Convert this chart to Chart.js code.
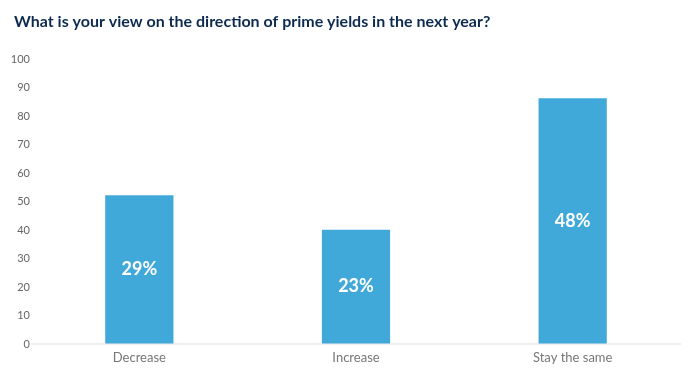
<!DOCTYPE html>
<html>
<head>
<meta charset="utf-8">
<script src="https://cdn.jsdelivr.net/npm/chart.js@4.4.1/dist/chart.umd.min.js"></script>
<style>
  html, body { margin: 0; padding: 0; background: #fff; }
  #wrap { width: 700px; height: 377px; }
</style>
</head>
<body>
<div id="wrap"><canvas id="prime_yields"></canvas></div>
<script>
var categories = ['Decrease', 'Increase', 'Stay the same'];
var responses = [52.3, 40.2, 86.3];
var share_labels = ['29%', '23%', '48%'];
var y_ticks = [0, 10, 20, 30, 40, 50, 60, 70, 80, 90, 100];

var bar_color = '#41a8da';

// white share text in the middle of each bar
var barText = {
    id: 'barText',
    afterLayout: function (chart) {
        // indent the title a little from the canvas edge
        if (chart.titleBlock) chart.titleBlock.left = 14;
    },
    afterDatasetsDraw: function (chart) {
        var ctx = chart.ctx;
        var meta = chart.getDatasetMeta(0);
        ctx.save();
        ctx.fillStyle = '#ffffff';
        ctx.font = 'bold 18px Lato';
        ctx.textAlign = 'center';
        ctx.textBaseline = 'middle';
        meta.data.forEach(function (bar, i) {
            ctx.fillText(share_labels[i], bar.x, (bar.y + bar.base) / 2);
        });
        ctx.restore();
    }
};

var ctx = document.getElementById('prime_yields').getContext('2d');
var myChart = new Chart(ctx, {
    type: 'bar',
    data: {
        labels: categories,
        datasets: [{
            data: responses,
            backgroundColor: bar_color,
            borderWidth: 0,
            barPercentage: 0.315,
            categoryPercentage: 1.0
        }]
    },
    options: {
        responsive: true,
        maintainAspectRatio: false,
        animation: false,
        layout: { padding: { left: 0, right: 19, top: 0, bottom: 5 } },
        plugins: {
            legend: { display: false },
            tooltip: { enabled: false },
            title: {
                display: true,
                text: 'What is your view on the direction of prime yields in the next year?',
                align: 'start',
                color: '#0d2b50',
                font: { family: 'Lato', size: 16, weight: 'bold' },
                padding: { top: 12, bottom: 28 }
            }
        },
        scales: {
            x: {
                grid: { display: false, drawTicks: false },
                border: { display: false },
                ticks: {
                    color: '#777',
                    padding: 6,
                    font: { family: 'Lato', size: 13 }
                }
            },
            y: {
                min: 0,
                max: 100,
                afterFit: function (scale) { scale.width = 31; },
                afterBuildTicks: function (scale) {
                    scale.ticks = y_ticks.map(function (v) { return { value: v }; });
                },
                grid: {
                    drawTicks: false,
                    color: function (c) { return c.tick && c.tick.value === 0 ? '#eeeeee' : 'rgba(0,0,0,0)'; },
                    lineWidth: 2
                },
                border: { display: false },
                ticks: {
                    color: '#666',
                    padding: 1,
                    font: { family: 'Lato', size: 11 }
                }
            }
        }
    },
    plugins: [barText]
});
</script>
</body>
</html>
